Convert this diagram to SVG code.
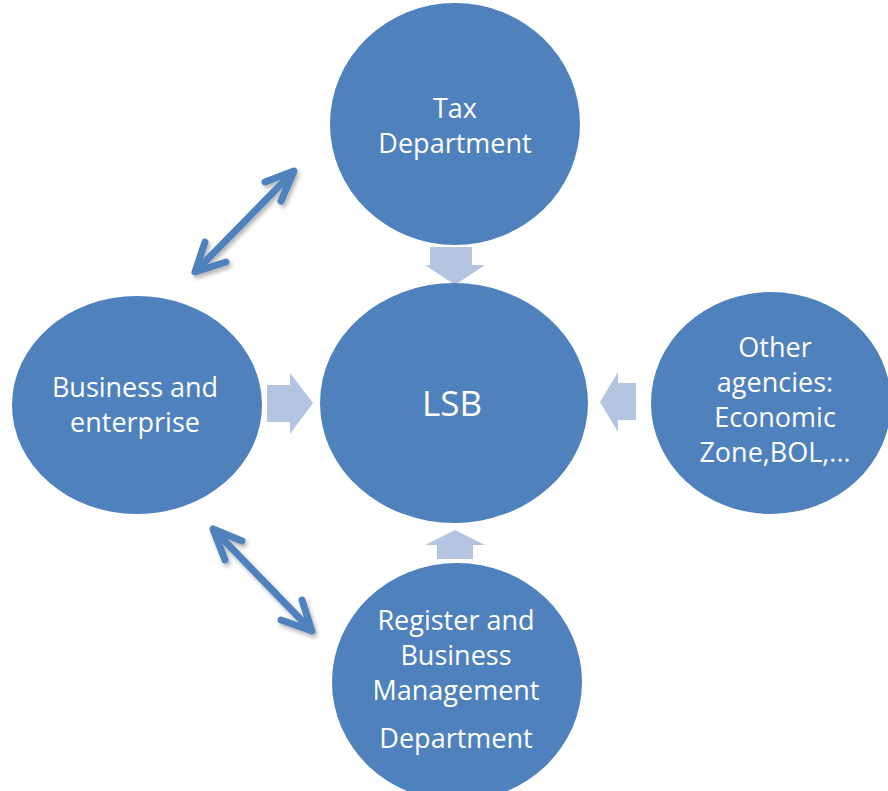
<svg xmlns="http://www.w3.org/2000/svg" width="888" height="791" viewBox="0 0 888 791">
<defs>
<style>
.node{fill:#4F81BD;}
.lbl{fill:#FFFFFF;font-family:"Open Sans","Liberation Sans",Arial,sans-serif;font-size:27px;text-anchor:middle;}
.blk{fill:#B3C5E0;}
.dbl{fill:none;stroke:#4F81BD;stroke-width:7;stroke-linecap:round;stroke-linejoin:round;}
</style>
<filter id="sh" x="-20%" y="-20%" width="140%" height="140%">
<feGaussianBlur in="SourceAlpha" stdDeviation="2"/>
<feOffset dx="2" dy="3"/>
<feComponentTransfer><feFuncA type="linear" slope="0.3"/></feComponentTransfer>
<feMerge><feMergeNode/><feMergeNode in="SourceGraphic"/></feMerge>
</filter>
</defs>
<rect width="888" height="791" fill="#FFFFFF"/>
<g id="connectors">
<polygon class="blk" points="430,247 472,247 472,265 485,265 455,285 425,265 430,265"/>
<polygon class="blk" points="267,385 290,385 290,373 313,403 290,434 290,422 267,422"/>
<polygon class="blk" points="636,383 618,383 618,372 600,402 618,432 618,420 636,420"/>
<polygon class="blk" points="437,559 473,559 473,545 485,545 455,530 425,545 437,545"/>
<g filter="url(#sh)">
<path class="dbl" d="M196,271 L293,172 M265,182 L294,171 L281,201 M205,242 L195,272 L226,262"/>
<path class="dbl" d="M214,530 L311,630 M242,541 L213,529 L225,560 M302,600 L312,631 L281,620"/>
</g>
</g>
<g id="tax">
<ellipse class="node" cx="455" cy="124" rx="125" ry="121"/>
<text class="lbl" x="455" y="118">Tax</text>
<text class="lbl" x="455" y="153">Department</text>
</g>
<g id="lsb">
<ellipse class="node" cx="454" cy="403" rx="134" ry="120"/>
<text class="lbl" x="452" y="416" style="font-size:35px">LSB</text>
</g>
<g id="business">
<ellipse class="node" cx="137" cy="405" rx="125" ry="109"/>
<text class="lbl" x="135" y="397">Business and</text>
<text class="lbl" x="135" y="432">enterprise</text>
</g>
<g id="other">
<ellipse class="node" cx="771" cy="403" rx="120" ry="111"/>
<text class="lbl" x="775" y="357">Other</text>
<text class="lbl" x="775" y="392">agencies:</text>
<text class="lbl" x="775" y="427">Economic</text>
<text class="lbl" x="775" y="462">Zone,BOL,...</text>
</g>
<g id="register">
<ellipse class="node" cx="457" cy="682" rx="125" ry="119"/>
<text class="lbl" x="456" y="630">Register and</text>
<text class="lbl" x="456" y="665">Business</text>
<text class="lbl" x="456" y="700">Management</text>
<text class="lbl" x="456" y="748">Department</text>
</g>
</svg>
